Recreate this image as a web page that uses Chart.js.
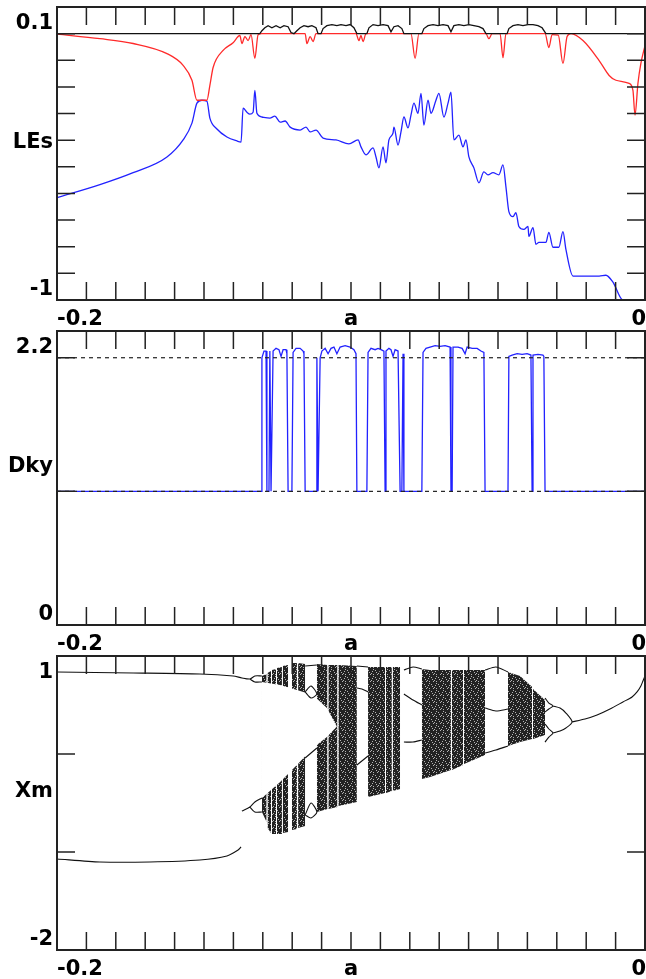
<!DOCTYPE html>
<html>
<head>
<meta charset="utf-8">
<script src="https://cdn.jsdelivr.net/npm/chart.js@4.4.0/dist/chart.umd.min.js"></script>
<style>
  body { margin: 0; background: #fff; }
  canvas { position: absolute; left: 0; }
</style>
</head>
<body>
<canvas id="leChart" width="646" height="330" style="top:0px"></canvas>
<canvas id="dkyChart" width="646" height="325" style="top:330px"></canvas>
<canvas id="xmChart" width="646" height="324" style="top:655px"></canvas>
<script>
// ---- axis ticks / labels ----
const xTicks = [-0.19,-0.18,-0.17,-0.16,-0.15,-0.14,-0.13,-0.12,-0.11,-0.1,-0.09,-0.08,-0.07,-0.06,-0.05,-0.04,-0.03,-0.02,-0.01];
const xLabels = ['-0.2', 'a', '0'];
const leTicks = [-0.9,-0.8,-0.7,-0.6,-0.5,-0.4,-0.3,-0.2,-0.1,0];
const leLabels = ['0.1', 'LEs', '-1'];
const dkyTicks = [1, 2];
const dkyLabels = ['2.2', 'Dky', '0'];
const dkyRef = [1, 2];
const xmTicks = [-1, 0];
const xmLabels = ['1', 'Xm', '-2'];

// ---- Lyapunov exponents ----
const le1A = [-0.2,-0.1310,-0.1303,-0.1293,-0.1282,-0.1269,-0.1255,-0.1241,-0.1228,-0.1214,-0.1204,-0.1194,-0.1184,-0.1173,-0.1160,-0.1146,-0.1133,-0.1119,-0.1112,-0.1102,-0.1095,-0.1082,-0.1065,-0.1048,-0.1034,-0.1017,-0.1003,-0.0990,-0.0980,-0.0946,-0.0939,-0.0925,-0.0908,-0.0891,-0.0874,-0.0864,-0.0854,-0.0840,-0.0827,-0.0820,-0.0759,-0.0752,-0.0738,-0.0721,-0.0704,-0.0687,-0.0670,-0.0660,-0.0650,-0.0633,-0.0616,-0.0599,-0.0582,-0.0565,-0.0551,-0.0541,-0.0469,-0.0463,-0.0449,-0.0432,-0.0415,-0.0398,-0.0381,-0.0364,-0.0350,-0.0337,0];
const le1 = [0,0,0.011,0.022,0.030,0.022,0.030,0.022,0.030,0.026,0.004,0,0.011,0.022,0.030,0.026,0.030,0.022,0,0,0.019,0.030,0.034,0.030,0.034,0.030,0.034,0.022,0,0,0.022,0.034,0.030,0.034,0.030,0.007,0.026,0.030,0.019,0,0,0.019,0.030,0.034,0.030,0.034,0.030,0.007,0.030,0.034,0.030,0.034,0.030,0.026,0.019,0,0,0.019,0.030,0.034,0.030,0.034,0.034,0.030,0.022,0,0];

const le2A = [-0.2,-0.1854,-0.1741,-0.1626,-0.1571,-0.1541,-0.1524,-0.1507,-0.1490,-0.1480,-0.1469,-0.1435,-0.1401,-0.1378,-0.1371,-0.1361,-0.1350,-0.1340,-0.1327,-0.1316,-0.1303,-0.1156,-0.1150,-0.1139,-0.1129,-0.1119,-0.0983,-0.0973,-0.0966,-0.0959,-0.0949,-0.0796,-0.0782,-0.0769,-0.0541,-0.0531,-0.0520,-0.0493,-0.0483,-0.0473,-0.0340,-0.0327,-0.0316,-0.0295,-0.0279,-0.0265,-0.0252,-0.0211,-0.0156,-0.0122,-0.0099,-0.0054,-0.0041,-0.0034,-0.0024,-0.0014,0];
const le2 = [-0.002,-0.019,-0.037,-0.075,-0.119,-0.175,-0.250,-0.250,-0.250,-0.194,-0.127,-0.063,-0.034,-0.007,-0.037,-0.011,-0.026,-0.004,-0.093,-0.004,0,0,-0.037,-0.011,-0.030,0,0,-0.026,-0.007,-0.030,0,0,-0.093,0,0,-0.019,0,0,-0.090,0,0,-0.052,-0.004,-0.006,-0.112,-0.011,0,-0.026,-0.101,-0.157,-0.175,-0.187,-0.213,-0.306,-0.187,-0.112,-0.045];

const le3A = [-0.2,-0.1854,-0.1741,-0.1626,-0.1571,-0.1541,-0.1524,-0.1507,-0.1490,-0.1480,-0.1456,-0.1422,-0.1388,-0.1374,-0.1367,-0.1354,-0.1344,-0.1333,-0.1327,-0.1320,-0.1303,-0.1276,-0.1259,-0.1241,-0.1224,-0.1207,-0.1173,-0.1153,-0.1139,-0.1119,-0.1095,-0.1051,-0.1007,-0.0976,-0.0966,-0.0949,-0.0925,-0.0915,-0.0905,-0.0891,-0.0881,-0.0871,-0.0857,-0.0854,-0.0840,-0.0830,-0.0820,-0.0806,-0.0796,-0.0786,-0.0772,-0.0762,-0.0752,-0.0738,-0.0728,-0.0711,-0.0701,-0.0684,-0.0670,-0.0660,-0.0650,-0.0633,-0.0619,-0.0609,-0.0599,-0.0582,-0.0565,-0.0548,-0.0534,-0.0517,-0.0497,-0.0483,-0.0473,-0.0463,-0.0449,-0.0439,-0.0429,-0.0412,-0.0398,-0.0395,-0.0381,-0.0371,-0.0361,-0.0337,-0.0327,-0.0313,-0.0293,-0.0279,-0.0269,-0.0245,-0.0156,-0.0133,-0.0109,-0.0075,0];
const le3 = [-0.616,-0.567,-0.522,-0.463,-0.399,-0.336,-0.261,-0.250,-0.254,-0.317,-0.358,-0.388,-0.403,-0.407,-0.280,-0.295,-0.302,-0.295,-0.213,-0.299,-0.313,-0.317,-0.310,-0.332,-0.328,-0.351,-0.362,-0.351,-0.369,-0.362,-0.392,-0.399,-0.414,-0.399,-0.425,-0.455,-0.429,-0.463,-0.504,-0.425,-0.485,-0.399,-0.373,-0.351,-0.418,-0.369,-0.313,-0.354,-0.306,-0.261,-0.299,-0.224,-0.343,-0.250,-0.299,-0.250,-0.224,-0.313,-0.261,-0.220,-0.399,-0.381,-0.425,-0.399,-0.463,-0.504,-0.560,-0.519,-0.530,-0.522,-0.530,-0.493,-0.575,-0.668,-0.687,-0.672,-0.724,-0.735,-0.724,-0.761,-0.728,-0.791,-0.784,-0.784,-0.746,-0.802,-0.802,-0.743,-0.810,-0.910,-0.910,-0.907,-0.933,-1.0,-1.0];

// ---- Kaplan-Yorke dimension ----
const dkyA = [-0.2,-0.1306,-0.1303,-0.1296,-0.1289,-0.1286,-0.1279,-0.1276,-0.1272,-0.1269,-0.1265,-0.1255,-0.1245,-0.1238,-0.1231,-0.1221,-0.1218,-0.1214,-0.1201,-0.1197,-0.1187,-0.1173,-0.1163,-0.1160,-0.1156,-0.1119,-0.1116,-0.1112,-0.1109,-0.1105,-0.1099,-0.1088,-0.1078,-0.1068,-0.1058,-0.1048,-0.1037,-0.1020,-0.1003,-0.0990,-0.0983,-0.0980,-0.0946,-0.0942,-0.0932,-0.0918,-0.0908,-0.0898,-0.0888,-0.0884,-0.0881,-0.0871,-0.0864,-0.0857,-0.0850,-0.0840,-0.0833,-0.0827,-0.0823,-0.0820,-0.0759,-0.0755,-0.0745,-0.0731,-0.0714,-0.0697,-0.0680,-0.0663,-0.0660,-0.0656,-0.0653,-0.0636,-0.0622,-0.0612,-0.0605,-0.0588,-0.0571,-0.0558,-0.0548,-0.0544,-0.0466,-0.0463,-0.0452,-0.0435,-0.0418,-0.0401,-0.0388,-0.0384,-0.0381,-0.0364,-0.0347,-0.0344,-0.0340,0];
const dky = [1,1,2.00,2.05,2.05,1,1,2.05,1,1,2.05,2.07,2.06,2.01,2.06,2.06,2.03,1,1,2.04,2.07,2.07,2.05,2.03,1,1,2.00,1,1,2.00,2.05,2.07,2.03,2.07,2.08,2.03,2.08,2.09,2.08,2.06,2.03,1,1,2.04,2.07,2.06,2.07,2.06,2.05,1,2.05,2.07,2.06,2.01,2.06,2.05,1,1,2.03,1,1,2.04,2.07,2.08,2.09,2.085,2.09,2.08,1,1,2.08,2.08,2.07,2.03,2.08,2.07,2.07,2.05,2.04,1,1,2.01,2.02,2.03,2.025,2.03,2.02,1,2.02,2.025,2.02,2.01,1,1];

// ---- local maxima Xm: periodic orbits (null = break) ----
const orbA = [-0.2,-0.1741,-0.1514,-0.1401,-0.1371,-0.1344,-0.1327,-0.1303,null,
  -0.1344,-0.1327,-0.1303,null,
  -0.2,-0.1854,-0.1684,-0.1514,-0.1422,-0.1384,-0.1374,null,
  -0.1371,-0.1344,-0.1327,-0.1303,null,
  -0.1344,-0.1327,-0.1303,null,
  -0.1156,-0.1116,null,
  -0.1156,-0.1136,-0.1116,-0.1136,-0.1156,null,
  -0.1156,-0.1116,null,
  -0.1156,-0.1136,-0.1116,-0.1136,-0.1156,null,
  -0.0980,-0.0942,null,
  -0.0980,-0.0963,-0.0942,null,
  -0.0980,-0.0942,null,
  -0.0820,-0.0789,-0.0759,null,
  -0.0820,-0.0789,-0.0759,null,
  -0.0820,-0.0789,-0.0759,null,
  -0.0544,-0.0507,-0.0466,null,
  -0.0544,-0.0507,-0.0466,null,
  -0.0544,-0.0507,-0.0466,null,
  -0.0340,-0.0327,-0.0313,-0.0327,-0.0340,null,
  -0.0340,-0.0327,-0.0313,-0.0327,-0.0340,null,
  -0.0313,-0.0289,-0.0269,-0.0248,-0.0269,-0.0289,-0.0313,null,
  -0.0248,-0.0204,-0.0163,-0.0119,-0.0075,-0.0044,-0.0027,-0.0014,-0.0007,0];
const orbXm = [0.837,0.827,0.816,0.796,0.776,0.765,0.796,0.796,null,
  0.765,0.735,0.735,null,
  -1.071,-1.102,-1.102,-1.082,-1.041,-0.980,-0.949,null,
  -0.582,-0.541,-0.490,-0.449,null,
  -0.541,-0.592,-0.592,null,
  0.898,0.908,null,
  0.633,0.694,0.612,0.571,0.633,null,
  -0.041,0.061,null,
  -0.622,-0.500,-0.592,-0.653,-0.622,null,
  0.898,0.888,null,
  0.673,0.663,0.633,null,
  -0.112,-0.020,null,
  0.857,0.888,0.867,null,
  0.612,0.551,0.500,null,
  0.122,0.122,0.143,null,
  0.857,0.888,0.837,null,
  0.469,0.439,0.459,null,
  0.010,0.041,0.082,null,
  0.571,0.520,0.490,0.459,0.429,null,
  0.306,0.255,0.214,0.173,0.122,null,
  0.490,0.469,0.418,0.327,0.265,0.235,0.214,null,
  0.327,0.357,0.398,0.459,0.531,0.582,0.633,0.694,0.745,0.796];

// chaotic bands: upper / lower envelope, null = periodic window
const chaosA   = [-0.1303,-0.1287,null,-0.1284,-0.1272,null,-0.1269,-0.1255,null,-0.1252,-0.1235,null,-0.1232,-0.1214,null,-0.1201,-0.1184,null,-0.1180,-0.1156,null,-0.1116,-0.1080,null,-0.1077,-0.1046,null,-0.1043,-0.0980,null,-0.0942,-0.0884,null,-0.0881,-0.0861,null,-0.0858,-0.0833,null,-0.0759,-0.0731,-0.0660,null,-0.0657,-0.0619,null,-0.0616,-0.0544,null,-0.0466,-0.0425,-0.0384,null,-0.0381,-0.0340];
const chaosTop = [0.796,0.816,null,0.827,0.847,null,0.857,0.867,null,0.878,0.888,null,0.898,0.908,null,0.929,0.929,null,0.929,0.918,null,0.918,0.908,null,0.908,0.908,null,0.908,0.898,null,0.888,0.888,null,0.888,0.888,null,0.888,0.888,null,0.867,0.857,0.857,null,0.857,0.857,null,0.857,0.857,null,0.837,0.796,0.684,null,0.663,0.551];
const chaosBot = [-0.592,-0.694,null,-0.755,-0.806,null,-0.816,-0.816,null,-0.816,-0.816,null,-0.806,-0.796,null,-0.776,-0.765,null,-0.755,-0.735,null,-0.592,-0.561,null,-0.561,-0.541,null,-0.531,-0.490,null,-0.439,-0.398,null,-0.398,-0.378,null,-0.378,-0.357,null,-0.255,-0.235,-0.163,null,-0.163,-0.112,null,-0.102,-0.010,null,0.082,0.122,0.153,null,0.153,0.194];
// empty wedge between the two early bands
const gapA   = [-0.1303,-0.1241,-0.1184,-0.1129,-0.1082,-0.1048];
const gapTop = [0.735,0.704,0.653,0.602,0.469,0.28];
const gapBot = [-0.449,-0.286,-0.112,0.061,0.173,0.28];

function pts(A, V) {
  return A.map((a, i) => a === null ? {x: A[i - 1], y: null} : {x: a, y: V[i]});
}

// speckled fill for the chaotic bands
const speckle = ['1101111', '1111011', '1011111', '1111101', '0111111', '1101110', '1111111'];
function specklePattern() {
  const c = document.createElement('canvas');
  c.width = 7; c.height = 7;
  const g = c.getContext('2d');
  speckle.forEach((row, j) => [...row].forEach((v, i) => {
    g.fillStyle = v === '1' ? '#222' : '#b4b4b4';
    g.fillRect(i, j, 1, 1);
  }));
  return g.createPattern(c, 'repeat');
}

function bandSets(A, top, bot, fillStyle, order) {
  const segs = [];
  let s = null;
  A.forEach((a, i) => {
    if (a === null) { s = null; return; }
    if (!s) { s = {t: [], b: []}; segs.push(s); }
    s.t.push({x: a, y: top[i]});
    s.b.push({x: a, y: bot[i]});
  });
  return segs.flatMap(g => [
    {data: g.t, fill: '+1', backgroundColor: fillStyle, borderColor: 'rgba(0,0,0,0)', order},
    {data: g.b, fill: false, borderColor: 'rgba(0,0,0,0)', order}
  ]);
}

const framePlugin = {
  id: 'frame',
  afterDraw(chart, args, o) {
    const {ctx, chartArea: {left, right, top, bottom}, scales: {x, y}} = chart;
    ctx.save();
    ctx.strokeStyle = '#222';
    ctx.lineWidth = 1.5;
    ctx.beginPath();
    xTicks.forEach(v => {
      const px = x.getPixelForValue(v);
      ctx.moveTo(px, top); ctx.lineTo(px, top + 18);
      ctx.moveTo(px, bottom); ctx.lineTo(px, bottom - 18);
    });
    o.yTicks.forEach(v => {
      const py = y.getPixelForValue(v);
      ctx.moveTo(left, py); ctx.lineTo(left + 18, py);
      ctx.moveTo(right, py); ctx.lineTo(right - 18, py);
    });
    ctx.stroke();
    ctx.lineWidth = 2;
    ctx.strokeRect(left, top, right - left, bottom - top);

    ctx.fillStyle = '#000';
    ctx.font = 'bold 21px "DejaVu Sans"';
    ctx.textBaseline = 'alphabetic';
    ctx.textAlign = 'right';
    ctx.fillText(o.yLabels[0], left - 4, top + 22);
    ctx.fillText(o.yLabels[1], left - 4, (top + bottom) / 2 - 6);
    ctx.fillText(o.yLabels[2], left - 4, bottom - 5);
    const yb = bottom + 25;
    ctx.textAlign = 'left';
    ctx.fillText(xLabels[0], left, yb);
    ctx.textAlign = 'center';
    ctx.fillText(xLabels[1], (left + right) / 2, yb);
    ctx.textAlign = 'right';
    ctx.fillText(xLabels[2], right + 1, yb);
    ctx.restore();
  }
};

function makePanel(id, pad, yMin, yMax, datasets, yTicks, yLabels) {
  return new Chart(document.getElementById(id), {
    type: 'line',
    data: {datasets},
    options: {
      responsive: false,
      animation: false,
      layout: {padding: {left: 57, right: 1, top: pad[0], bottom: pad[1]}},
      elements: {point: {radius: 0}, line: {borderWidth: 1.3, tension: 0}},
      scales: {
        x: {type: 'linear', min: -0.2, max: 0, display: false},
        y: {type: 'linear', min: yMin, max: yMax, display: false}
      },
      plugins: {
        legend: {display: false},
        tooltip: {enabled: false},
        frame: {yTicks, yLabels}
      }
    },
    plugins: [framePlugin]
  });
}

makePanel('leChart', [7, 30], -1, 0.1, [
  {data: pts(le1A, le1), borderColor: '#111', fill: false},
  {data: pts(le2A, le2), borderColor: '#ff2a2a', fill: false, cubicInterpolationMode: 'monotone'},
  {data: pts(le3A, le3), borderColor: '#2222ff', fill: false, cubicInterpolationMode: 'monotone'}
], leTicks, leLabels);

makePanel('dkyChart', [1, 30], 0, 2.2, [
  ...dkyRef.map(v => ({data: [{x: -0.2, y: v}, {x: 0, y: v}], borderColor: '#222', borderWidth: 1.2, borderDash: [4, 4], fill: false})),
  {data: pts(dkyA, dky), borderColor: '#2222ff', fill: false}
], dkyTicks, dkyLabels);

makePanel('xmChart', [1, 29], -2, 1, [
  {data: pts(orbA, orbXm), borderColor: '#111', borderWidth: 1.1, fill: false, tension: 0.25, order: 1},
  {data: pts(gapA, gapTop), fill: '+1', backgroundColor: '#fff', borderColor: 'rgba(0,0,0,0)', order: 3},
  {data: pts(gapA, gapBot), fill: false, borderColor: 'rgba(0,0,0,0)', order: 3},
  ...bandSets(chaosA, chaosTop, chaosBot, specklePattern(), 5)
], xmTicks, xmLabels);
</script>
</body>
</html>
